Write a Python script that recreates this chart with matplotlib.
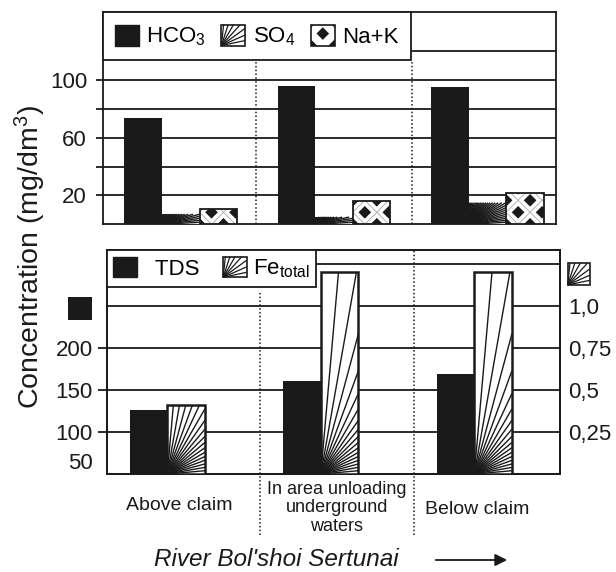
import numpy as np
import matplotlib
matplotlib.use('Agg')
import matplotlib.pyplot as plt
from matplotlib.patches import Rectangle, Patch, FancyArrowPatch
from matplotlib.collections import LineCollection
from matplotlib.legend_handler import HandlerBase

plt.rcParams['font.family'] = ['Liberation Sans', 'DejaVu Sans']
plt.rcParams['mathtext.default'] = 'regular'

# data
sites = ['Above claim', 'In area unloading\nunderground\nwaters', 'Below claim']
hco3 = [74, 96, 95.5]      # mg/dm3
so4 = [7, 5, 15]
nak = [10.5, 16.5, 21.5]
tds = [126, 161, 169]      # mg/dm3, left axis
fe = [0.41, 1.2, 1.2]      # mg/dm3, right axis
fe_ticks = [0.25, 0.5, 0.75, 1.0]
fe_labels = ['0,25', '0,5', '0,75', '1,0']

BLACK = '#1a1a1a'
W, H = 616, 572


def box(l, t, r, b):
    # pixel box (top-left origin) -> figure fraction rect
    return [l / W, 1 - b / H, (r - l) / W, (b - t) / H]


def ray_segs(x0, y0, w, h, step):
    segs = []
    for a in np.radians(np.arange(step, 90, step)):
        t = np.tan(a)
        if w * t <= h:
            segs.append([(x0, y0), (x0 + w, y0 + w * t)])
        else:
            segs.append([(x0, y0), (x0 + h / t, y0 + h)])
    return segs


def weave_segs(x0, y0, w, h, period):
    L = w + h + 2 * period
    segs = []
    for k in range(-int(h // period) - 3, int((w + h) // period) + 3):
        c = x0 + (k + 0.5) * period
        segs.append([(c - L, y0 - L), (c + L, y0 + L)])
        segs.append([(c - L, y0 + L), (c + L, y0 - L)])
    return segs


def pixel_box(ax, b):
    (x0, y0), (x1, y1) = ax.transData.transform(
        [(b.get_x(), b.get_y()), (b.get_x() + b.get_width(), b.get_y() + b.get_height())])
    return x0, y0, x1 - x0, y1 - y0


def add_rays(ax, bars, step):
    inv = ax.transData.inverted()
    for b in bars:
        segs = [inv.transform(s) for s in ray_segs(*pixel_box(ax, b), step)]
        ax.add_collection(LineCollection(segs, colors=BLACK, linewidths=1.0, zorder=4))


def add_weave(ax, bars, period=24, band=8):
    inv = ax.transData.inverted()
    for b in bars:
        segs = [inv.transform(s) for s in weave_segs(*pixel_box(ax, b), period)]
        lc = LineCollection(segs, colors='white', linewidths=band * 0.72, zorder=4)
        ax.add_collection(lc)
        lc.set_clip_path(b)
        thin = LineCollection(segs, colors='#9a9a9a', linewidths=0.5, zorder=4.5)
        ax.add_collection(thin)
        thin.set_clip_path(b)


class RayProxy(Patch):
    pass


class WeaveProxy(Patch):
    pass


class RayHandler(HandlerBase):
    def __init__(self, step):
        super().__init__()
        self.step = step

    def create_artists(self, legend, orig_handle, xdescent, ydescent, width, height, fontsize, trans):
        x0, y0 = -xdescent, -ydescent
        face = Rectangle((x0, y0), width, height, fc='white', ec='none', transform=trans)
        lc = LineCollection(ray_segs(x0, y0, width, height, self.step), colors=BLACK,
                            linewidths=0.9, transform=trans)
        edge = Rectangle((x0, y0), width, height, fill=False, ec=BLACK, lw=1.2, transform=trans)
        return [face, lc, edge]


class WeaveHandler(HandlerBase):
    def create_artists(self, legend, orig_handle, xdescent, ydescent, width, height, fontsize, trans):
        x0, y0 = -xdescent, -ydescent
        face = Rectangle((x0, y0), width, height, fc=BLACK, ec='none', transform=trans)
        lc = LineCollection(weave_segs(x0, y0, width, height, 17.3), colors='white',
                            linewidths=5.8, transform=trans)
        lc.set_clip_path(face)
        edge = Rectangle((x0, y0), width, height, fill=False, ec=BLACK, lw=1.2, transform=trans)
        return [face, lc, edge]


fig = plt.figure(figsize=(W / 100, H / 100), dpi=100)
x = np.arange(len(sites))
bw = 0.245

# ---------------- top panel: ions ----------------
ax1 = fig.add_axes(box(102.7, 12.3, 556.3, 224.3))
ax1.set_xlim(-0.509, 2.45)
ax1.set_ylim(0, 147.2)
for g in [20, 40, 60, 80, 100, 120]:
    ax1.axhline(g, color=BLACK, lw=1.3, zorder=1)
ax1.bar(x - bw, hco3, bw, color=BLACK, zorder=3)
b_s = ax1.bar(x, so4, bw, color='white', lw=0, zorder=3)
b_n = ax1.bar(x + bw, nak, bw, color=BLACK, lw=0, zorder=3)
ax1.bar(x + bw, nak, bw, fill=False, ec=BLACK, lw=1.3, zorder=5)
add_rays(ax1, b_s, 3)
add_weave(ax1, b_n)
for s in [0.49, 1.51]:
    ax1.plot([s, s], [0, 0.77], transform=ax1.get_xaxis_transform(), color=BLACK,
             ls=(0, (1, 1.5)), lw=1.1, zorder=2)
ax1.set_xticks([])
ax1.set_yticks([20, 40, 60, 80, 100])
ax1.set_yticklabels(['20', '', '60', '', '100'])
ax1.tick_params(axis='y', direction='out', length=4.8, width=1.3, pad=6.5, labelsize=16, colors=BLACK)
for sp in ax1.spines.values():
    sp.set_linewidth(1.3)
    sp.set_color(BLACK)
leg1 = ax1.legend([Patch(fc=BLACK, ec=BLACK), RayProxy(), WeaveProxy()],
                  ['HCO$_3$', 'SO$_4$', 'Na+K'],
                  handler_map={RayProxy: RayHandler(12), WeaveProxy: WeaveHandler()},
                  loc='upper left', bbox_to_anchor=(0, 1), borderaxespad=0, ncol=3,
                  fancybox=False, edgecolor=BLACK, framealpha=1, fontsize=16,
                  handlelength=1.08, handleheight=1.08, handletextpad=0.33,
                  columnspacing=0.7, borderpad=0.55)
leg1.get_frame().set_linewidth(1.3)
leg1.set_zorder(10)

# ---------------- bottom panel: TDS and Fe ----------------
ax2 = fig.add_axes(box(106.7, 250, 560, 474))
ax2r = ax2.twinx()
ax2.set_xlim(-0.395, 2.558)
ax2.set_ylim(50, 316.7)
ax2r.set_ylim(0, 1.3335)
for g in [100, 150, 200, 250, 300]:
    ax2.axhline(g, color=BLACK, lw=1.3, zorder=1)
ax2.bar(x - bw / 2, tds, bw, color=BLACK, zorder=3)
b_f = ax2r.bar(x + bw / 2, fe, bw, color='white', lw=0, zorder=3)
add_rays(ax2r, b_f, 5)
ax2r.bar(x + bw / 2, fe, bw, fill=False, ec=BLACK, lw=1.8, zorder=5)
for s, top in [(0.606, 0.809), (1.605, 1.0)]:
    ax2.plot([s, s], [-0.272, top], transform=ax2.get_xaxis_transform(), color=BLACK,
             ls=(0, (1, 1.5)), lw=1.1, zorder=2, clip_on=False)
ax2.set_xticks([])
ax2.set_yticks([50, 100, 150, 200])
ax2.tick_params(axis='y', direction='out', length=6.3, width=1.3, pad=3.6, labelsize=16, colors=BLACK)
t0 = ax2.yaxis.get_major_ticks()[0]
t0.tick1line.set_visible(False)
t0.label1.set_verticalalignment('bottom')
ax2r.set_yticks(fe_ticks)
ax2r.set_yticklabels(fe_labels)
ax2r.tick_params(axis='y', length=0, pad=6, labelsize=16, colors=BLACK)
for a in (ax2, ax2r):
    for sp in a.spines.values():
        sp.set_linewidth(1.3)
        sp.set_color(BLACK)
leg2 = ax2r.legend([Patch(fc=BLACK, ec=BLACK), RayProxy()], ['  TDS', 'Fe$_{total}$'],
                   handler_map={RayProxy: RayHandler(12)},
                   loc='upper left', bbox_to_anchor=(0, 1), borderaxespad=0, ncol=2,
                   fancybox=False, edgecolor=BLACK, framealpha=1, fontsize=16,
                   handlelength=1.05, handleheight=1.05, handletextpad=0.3,
                   columnspacing=1.05, borderpad=0.3)
leg2.get_frame().set_linewidth(1.3)
leg2.set_zorder(10)

# axis keys beside the bottom panel
fig.patches.append(Rectangle((67.7 / W, 1 - 320 / H), 24 / W, 23 / H,
                             transform=fig.transFigure, fc=BLACK, ec='none'))
kx, ky, ks = 567.7, H - 285, 22
fig.patches.append(Rectangle((kx / W, ky / H), ks / W, ks / H, transform=fig.transFigure,
                             fc='white', ec=BLACK, lw=1.2))
key_segs = [[(px / W, py / H) for px, py in s] for s in ray_segs(kx, ky, ks, ks, 12)]
fig.add_artist(LineCollection(key_segs, colors=BLACK, linewidths=0.9, transform=fig.transFigure))

# texts
fig.text(30 / W, 1 - 257 / H, 'Concentration (mg/dm$^3$)', rotation=90,
         ha='center', va='center', fontsize=20.5, color=BLACK)
fig.text(179.5 / W, 1 - 505 / H, sites[0], ha='center', va='center', fontsize=14, color=BLACK)
fig.text(336.7 / W, 1 - 508 / H, sites[1], ha='center', va='center', fontsize=13,
         linespacing=1.1, multialignment='center', color=BLACK)
fig.text(477 / W, 1 - 509 / H, sites[2], ha='center', va='center', fontsize=14, color=BLACK)
fig.text(276.5 / W, 1 - 560 / H, "River Bol'shoi Sertunai", ha='center', va='center',
         fontsize=17.5, style='italic', color=BLACK)
fig.add_artist(FancyArrowPatch((433 / W, 1 - 560 / H), (510 / W, 1 - 560 / H),
                               transform=fig.transFigure, arrowstyle='-|>',
                               mutation_scale=18, lw=1.3, color=BLACK))

fig.savefig('out.png', dpi=100)
